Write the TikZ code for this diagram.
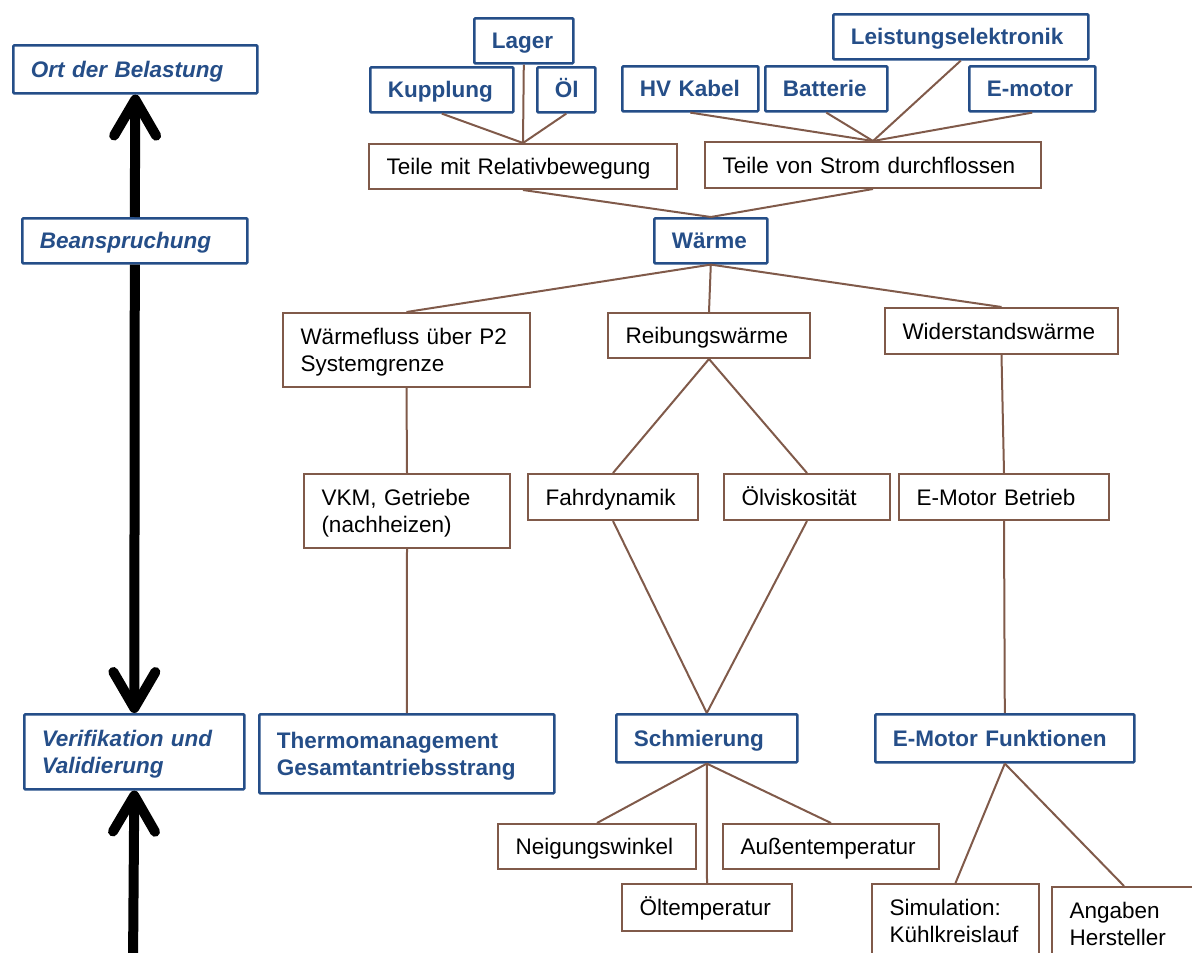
\documentclass[tikz,border=0pt]{standalone}
\usepackage{fontspec}
\setmainfont{Liberation Sans}
\usetikzlibrary{arrows.meta}
\definecolor{boxblue}{RGB}{37,78,136}
\definecolor{linkbrown}{RGB}{128,90,74}
\newcommand\dgfont{\fontsize{22.5pt}{27.5pt}\selectfont}
% invisible strut that centres the capitals of a line block in its box
\newcommand\capstrut{\rule[-5pt]{0pt}{26pt}}
\tikzset{
  base/.style={draw, anchor=north west, inner xsep=17.5pt, inner ysep=0pt,
    align=left, font=\dgfont,
    execute at begin node=\capstrut, execute at end node=\capstrut},
  sz/.style 2 args={minimum width=#1pt, minimum height=#2pt, text width={#1pt-35pt}},
  bluebox/.style={base, draw=boxblue, line width=2.6pt, text=boxblue,
    font=\dgfont\bfseries, rounded corners=1pt},
  levelbox/.style={bluebox, font=\dgfont\bfseries\itshape},
  brownbox/.style={base, draw=linkbrown, line width=2pt, text=black},
  link/.style={draw=linkbrown, line width=2pt},
  bigarrow/.style={line width=10pt,
    -{Straight Barb[length=36pt, width=42pt, round]}}
}
\begin{document}
\begin{tikzpicture}[x=1pt, y=-1pt]
\useasboundingbox (0,0) rectangle (1192,953);
\clip (0,0) rectangle (1192,953);

% level column on the left
\node[levelbox, sz={244}{48}] (ort)   at (12,44)  {Ort der Belastung};
\node[levelbox, sz={225}{45}] (bean)  at (21,217) {Beanspruchung};
\node[levelbox, sz={220}{75}] (verif) at (23,713) {Verifikation und\\Validierung};
\coordinate (abot) at (133,965);

\draw[bigarrow] (bean.north) -- (ort.south);
\draw[bigarrow] (bean.south) -- (verif.north);
\draw[bigarrow] (abot) -- (verif.south);

% components
\node[bluebox, sz={99}{45}]  (lager) at (473,17)  {Lager};
\node[bluebox, sz={143}{45}] (kupp)  at (369,66)  {Kupplung};
\node[bluebox, sz={58}{45}]  (oel)   at (536,66)  {Öl};
\node[bluebox, sz={136}{45}] (hv)    at (621,65)  {HV Kabel};
\node[bluebox, sz={122}{45}] (batt)  at (764,65)  {Batterie};
\node[bluebox, sz={255}{45}] (leist) at (832,13)  {Leistungselektronik};
\node[bluebox, sz={126}{45}] (emot)  at (968,65)  {E-motor};

% groups of parts
\node[brownbox, sz={308}{45}] (trel)   at (368,143) {Teile mit Relativbewegung};
\node[brownbox, sz={336}{46}] (tstrom) at (704,141) {Teile von Strom durchflossen};

% stress
\node[bluebox, sz={113}{45}] (waerme) at (653,217) {Wärme};

% heat sources
\node[brownbox, sz={247}{74}] (wfluss) at (282,312) {Wärmefluss über P2\\Systemgrenze};
\node[brownbox, sz={202}{45}] (reib)   at (607,312) {Reibungswärme};
\node[brownbox, sz={233}{46}] (wider)  at (884,307) {Widerstandswärme};

% causes
\node[brownbox, sz={206}{74}] (vkm)    at (303,473) {VKM, Getriebe\\(nachheizen)};
\node[brownbox, sz={170}{46}] (fahr)   at (527,473) {Fahrdynamik};
\node[brownbox, sz={166}{46}] (oelvis) at (723,473) {Ölviskosität};
\node[brownbox, sz={210}{46}] (embetr) at (898,473) {E-Motor Betrieb};

% verification areas
\node[bluebox, sz={295}{79}] (thermo) at (258,713) {Thermomanagement\\Gesamtantriebsstrang};
\node[bluebox, sz={181}{48}] (schm)   at (615,713) {Schmierung};
\node[bluebox, sz={259}{48}] (emfkt)  at (874,713) {E-Motor Funktionen};

% influences
\node[brownbox, sz={198}{45}] (neig)    at (497,823)  {Neigungswinkel};
\node[brownbox, sz={216}{45}] (aussen)  at (722,823)  {Außentemperatur};
\node[brownbox, sz={170}{47}] (oelt)    at (621,883)  {Öltemperatur};
\node[brownbox, sz={167}{74}] (sim)     at (871,883)  {Simulation:\\Kühlkreislauf};
\node[brownbox, sz={144}{74}] (angaben) at (1051,886) {Angaben\\Hersteller};

% connectors
\foreach \c in {kupp,lager,oel} \draw[link] (\c.south) -- (trel.north);
\foreach \c in {hv,batt,leist,emot} \draw[link] (\c.south) -- (tstrom.north);
\draw[link] (trel.south) -- (waerme.north);
\draw[link] (tstrom.south) -- (waerme.north);
\foreach \c in {wfluss,reib,wider} \draw[link] (waerme.south) -- (\c.north);
\draw[link] (wfluss.south) -- (vkm.north);
\draw[link] (vkm.south) -- (thermo.north);
\draw[link] (reib.south) -- (fahr.north);
\draw[link] (reib.south) -- (oelvis.north);
\draw[link] (fahr.south) -- (schm.north);
\draw[link] (oelvis.south) -- (schm.north);
\draw[link] (wider.south) -- (embetr.north);
\draw[link] (embetr.south) -- (emfkt.north);
\foreach \c in {neig,oelt,aussen} \draw[link] (schm.south) -- (\c.north);
\foreach \c in {sim,angaben} \draw[link] (emfkt.south) -- (\c.north);
\end{tikzpicture}
\end{document}
